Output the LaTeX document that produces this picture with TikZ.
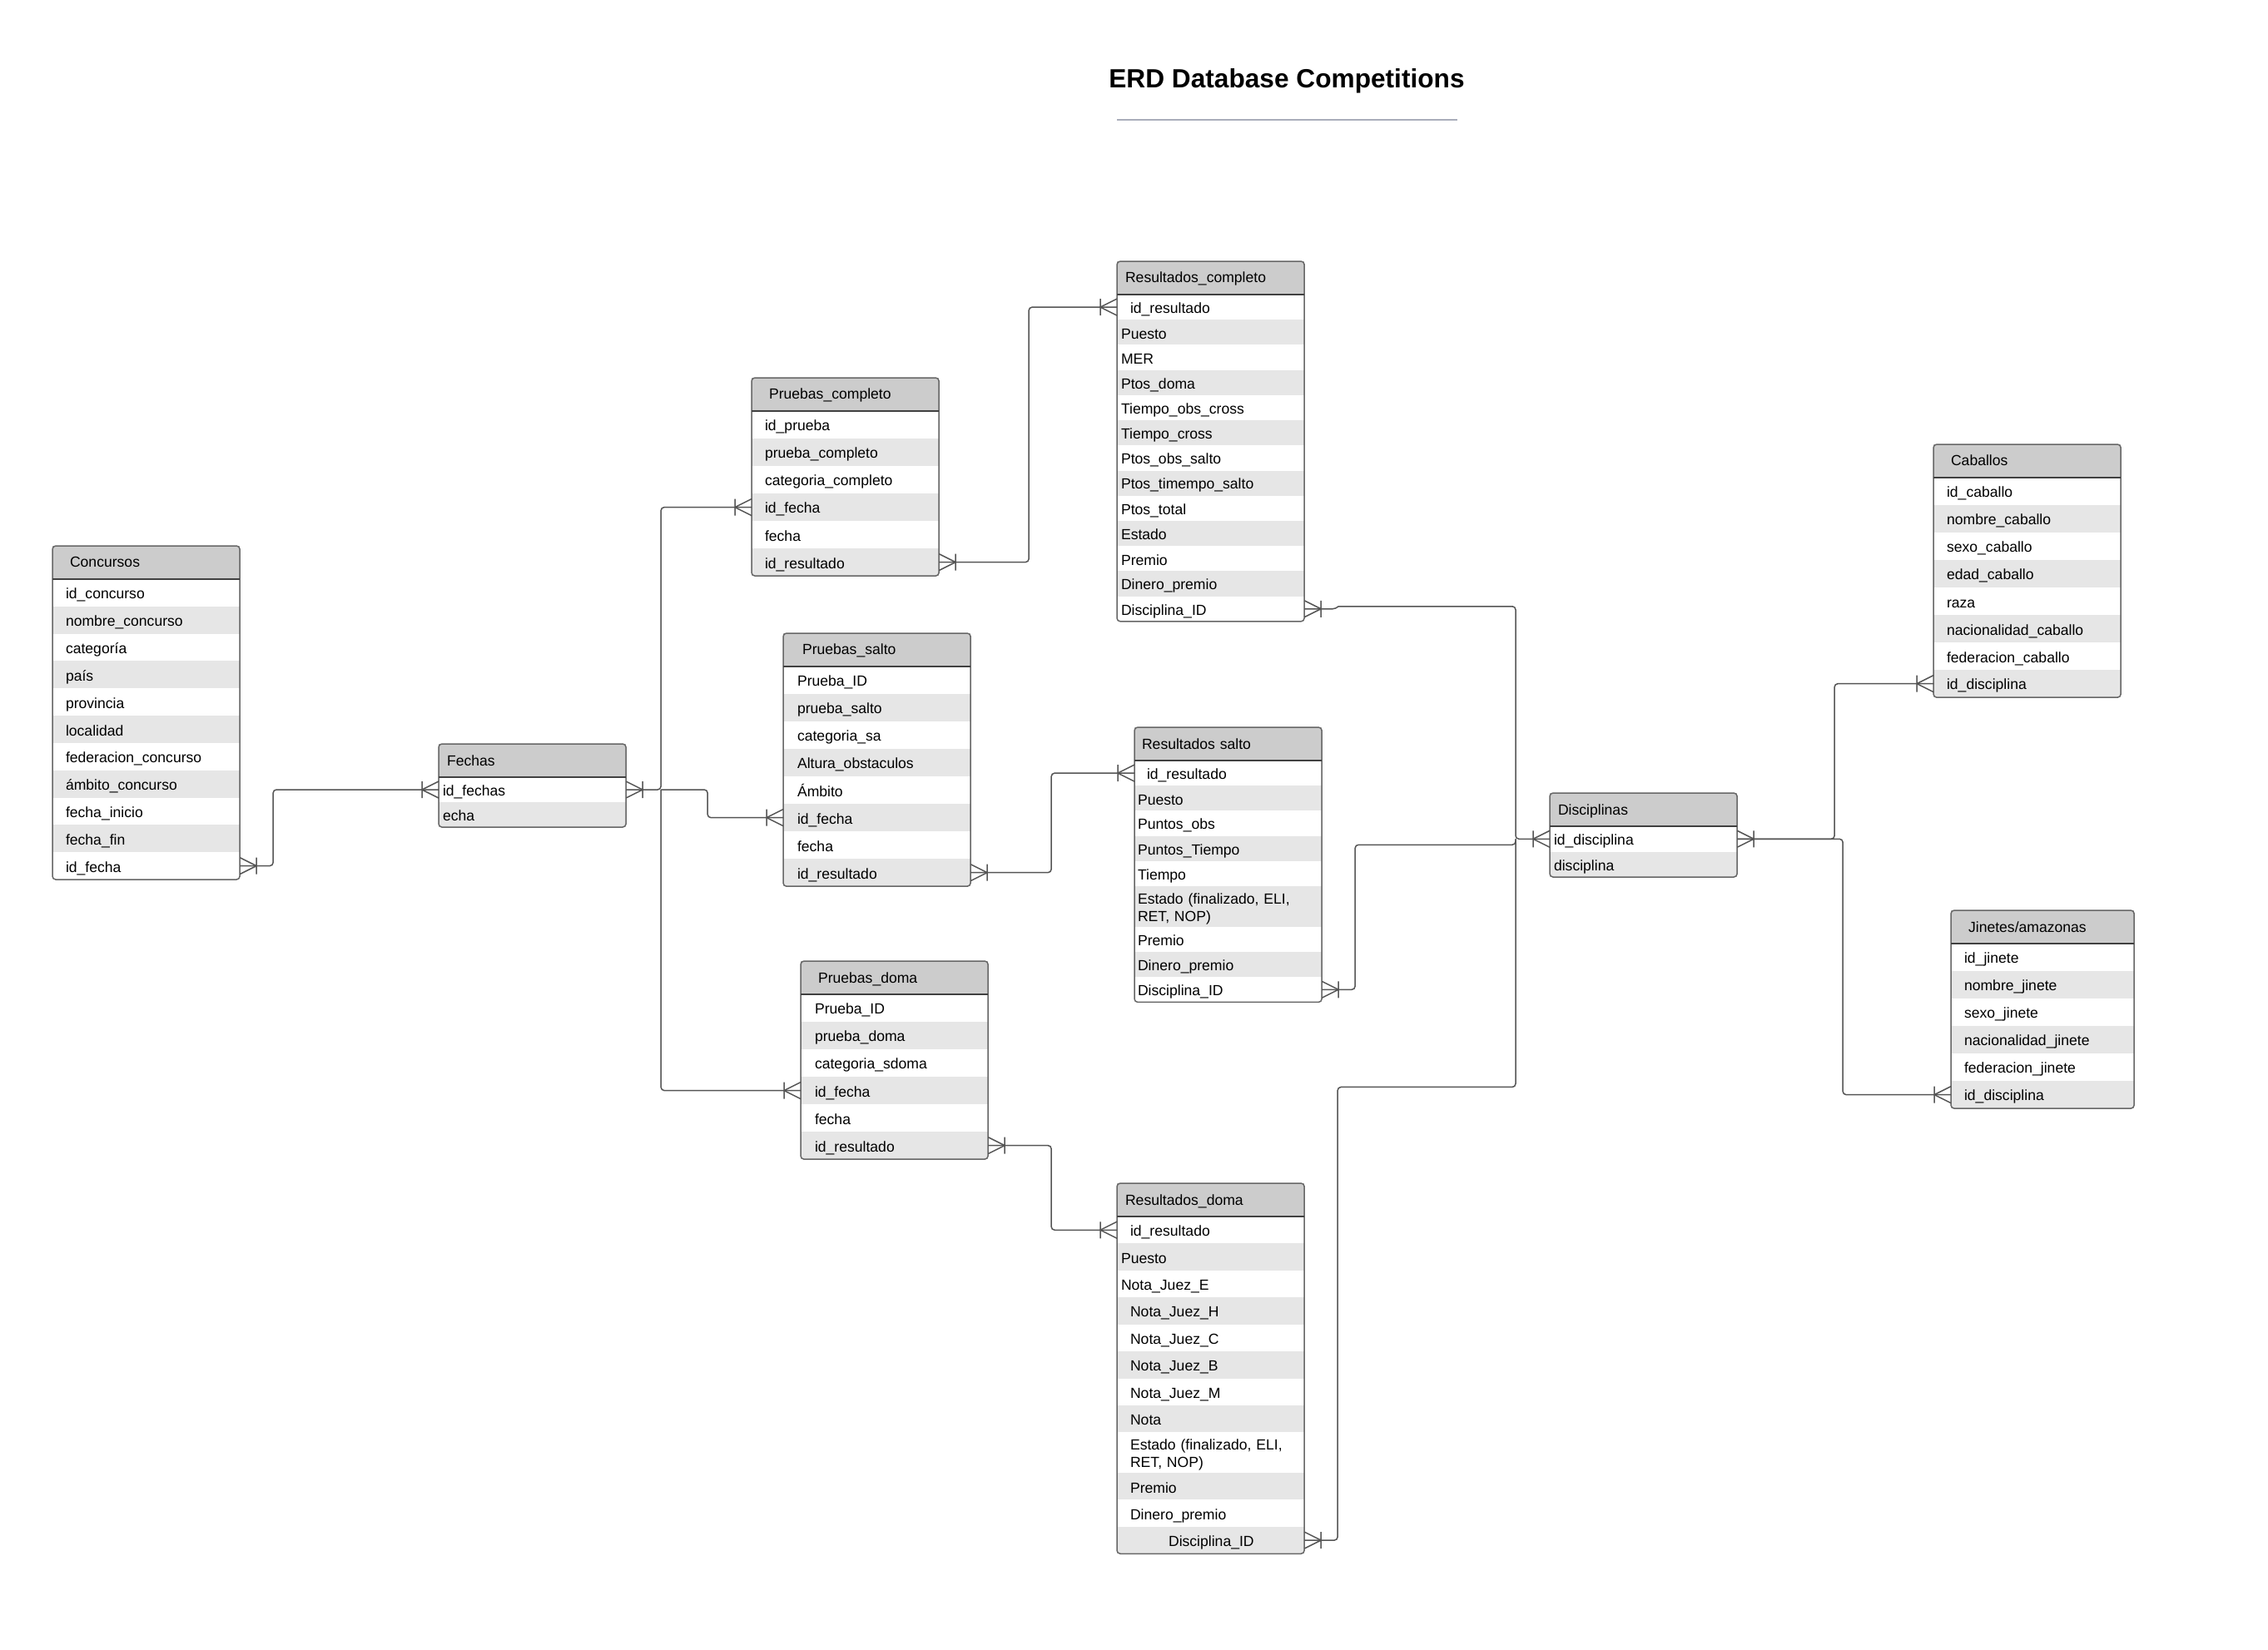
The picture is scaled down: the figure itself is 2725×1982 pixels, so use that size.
\documentclass[tikz,border=0pt]{standalone}
\usepackage{fontspec}
\setmainfont{Liberation Sans}
\usetikzlibrary{calc, positioning}

\definecolor{headgray}{HTML}{CCCCCC}
\definecolor{rowgray}{HTML}{E6E6E6}
\definecolor{linegray}{HTML}{555555}
\definecolor{rulegray}{HTML}{A9ADBA}

\newcommand{\rowind}{\hspace*{0.11cm}}
\newcommand{\rowstrut}{\rule[-0.8pt]{0pt}{6pt}}
\newcommand{\headstrut}{\rule[-1.3pt]{0pt}{6pt}}

% table: name, corner, width, head indent, row indent, row height, title, rows
\newcommand{\erdtable}[8]{%
	\pgfmathsetlengthmacro\headw{#3-2*#4}%
	\pgfmathsetlengthmacro\roww{#3-2*#5}%
	\node[erdhead, text width=\headw, inner xsep=#4, anchor=north west] (#1) at (#2) {\headstrut#7};
	\xdef\prevrow{#1}%
	\foreach \t [count=\i] in {#8} {%
		\pgfmathtruncatemacro\odd{mod(\i,2)}%
		\ifnum\odd=1 \def\rowfill{white}\else\def\rowfill{rowgray}\fi
		\node[erdrow, fill=\rowfill, text width=\roww, inner xsep=#5, minimum height=#6, anchor=north west] (#1-\i) at (\prevrow.south west) {\rowstrut\t};
		\xdef\prevrow{#1-\i}%
	}%
	\draw[boxline] (#1.north west) rectangle (\prevrow.south east);
	\draw[headline] (#1.south west) -- (#1.south east);
}

\begin{document}
\begin{tikzpicture}[x=0.01cm, y=-0.01cm,
	erdhead/.style={fill=headgray, minimum height=0.4cm, inner ysep=0.8pt, outer sep=0pt, align=left, font=\fontsize{5}{6}\selectfont},
	erdrow/.style={inner ysep=0.8pt, outer sep=0pt, align=left, font=\fontsize{5}{6}\selectfont},
	boxline/.style={draw=black!60, line width=0.15mm, rounded corners=0.4mm},
	headline/.style={draw=black!75, line width=0.15mm},
	conn/.style={draw=linegray, line width=0.15mm, rounded corners=0.4mm},
	crow/.pic={\draw[conn, sharp corners] (0,-10) -- (20,0) -- (0,10) (20,-10) -- (20,10);}]
	
	\useasboundingbox (0,0) rectangle (2725,1982);
	
	% Title
	\node[font=\fontsize{9}{11}\selectfont\bfseries] (title) at (1546,97) {ERD Database Competitions};
	\draw[rulegray, line width=0.2mm] ($(title.center)+(-204,47)$) -- ($(title.center)+(205,47)$);
	
	% --- COMPETITIONS AND DATES ---
	\erdtable{conc}{63,656}{2.25cm}{0.21cm}{0.16cm}{0.328cm}{Concursos}
	{id\_concurso, nombre\_concurso, categoría, país, provincia, localidad, federacion\_concurso, ámbito\_concurso, fecha\_inicio, fecha\_fin, id\_fecha}
	\erdtable{fech}{527,894}{2.25cm}{0.10cm}{0.05cm}{0.30cm}{Fechas}
	{id\_fechas, echa}
	
	% --- EVENTS ---
	\erdtable{pcom}{903,454}{2.25cm}{0.21cm}{0.16cm}{0.33cm}{Pruebas\_completo}
	{id\_prueba, prueba\_completo, categoria\_completo, id\_fecha, fecha, id\_resultado}
	\erdtable{psal}{941,761}{2.25cm}{0.23cm}{0.17cm}{0.33cm}{Pruebas\_salto}
	{Prueba\_ID, prueba\_salto, categoria\_sa, Altura\_obstaculos, Ámbito, id\_fecha, fecha, id\_resultado}
	\erdtable{pdom}{962,1155}{2.25cm}{0.21cm}{0.17cm}{0.33cm}{Pruebas\_doma}
	{Prueba\_ID, prueba\_doma, categoria\_sdoma, id\_fecha, fecha, id\_resultado}
	
	% --- RESULTS ---
	\erdtable{rcom}{1342,314}{2.25cm}{0.10cm}{0.05cm}{0.302cm}{Resultados\_completo}
	{\rowind id\_resultado, Puesto, MER, Ptos\_doma, Tiempo\_obs\_cross, Tiempo\_cross, Ptos\_obs\_salto, Ptos\_timempo\_salto, Ptos\_total, Estado, Premio, Dinero\_premio, Disciplina\_ID}
	\erdtable{rsal}{1363,874}{2.25cm}{0.09cm}{0.04cm}{0.302cm}{Resultados salto}
	{\rowind id\_resultado, Puesto, Puntos\_obs, Puntos\_Tiempo, Tiempo, {Estado (finalizado, ELI,\\RET, NOP)}, Premio, Dinero\_premio, Disciplina\_ID}
	\erdtable{rdom}{1342,1422}{2.25cm}{0.10cm}{0.05cm}{0.324cm}{Resultados\_doma}
	{\rowind id\_resultado, Puesto, Nota\_Juez\_E, \rowind Nota\_Juez\_H, \rowind Nota\_Juez\_C, \rowind Nota\_Juez\_B, \rowind Nota\_Juez\_M, \rowind Nota, {\rowind Estado (finalizado, ELI,\\\rowind RET, NOP)}, \rowind Premio, \rowind Dinero\_premio, \hspace*{0.57cm}Disciplina\_ID}
	
	% --- DISCIPLINES, HORSES, RIDERS ---
	\erdtable{disc}{1862,953}{2.25cm}{0.10cm}{0.05cm}{0.305cm}{Disciplinas}
	{id\_disciplina, disciplina}
	\erdtable{cab}{2323,534}{2.25cm}{0.21cm}{0.16cm}{0.33cm}{Caballos}
	{id\_caballo, nombre\_caballo, sexo\_caballo, edad\_caballo, raza, nacionalidad\_caballo, federacion\_caballo, id\_disciplina}
	\erdtable{jin}{2344,1094}{2.2cm}{0.21cm}{0.16cm}{0.33cm}{Jinetes/amazonas}
	{id\_jinete, nombre\_jinete, sexo\_jinete, nacionalidad\_jinete, federacion\_jinete, id\_disciplina}
	
	% --- RELATIONS ---
	\draw[conn] (conc-11.east) -- ++(40,0) |- (fech-1.west);
	\draw[conn] (fech-1.east) -- ++(42,0) coordinate (fj) |- (pcom-4.west);
	\draw[conn] (fj) |- (pdom-4.west);
	\draw[conn] (fj) -- ++(56,0) |- (psal-6.west);
	
	\draw[conn] (pcom-6.east) -- ++(108,0) |- (rcom-1.west);
	\draw[conn] (psal-8.east) -- ++(97,0) |- (rsal-1.west);
	\draw[conn] (pdom-6.east) -- ++(76,0) |- (rdom-1.west);
	
	% results -> disciplines (shared bus)
	\coordinate[left=0.41cm of disc-1.west] (bus);
	\draw[conn] (rcom-13.east) -- ++(38,0) [sharp corners] -- ++(3,-3) [rounded corners=0.4mm] -| (bus) -- (disc-1.west);
	\draw[conn] (rsal-9.east) -- ++(40,0) |- ([yshift=-0.07cm]bus) -- (bus);
	\draw[conn] (rdom-12.east) -- ++(40,0) |- ([yshift=-2.98cm]bus) -- (bus);
	
	\draw[conn] (disc-1.east) -- ++(117,0) |- (cab-8.west);
	\draw[conn] (disc-1.east) -- ++(127,0) |- (jin-6.west);
	
	% crow's feet (one or many)
	\foreach \p in {conc-11, fech-1, pcom-6, psal-8, pdom-6, rcom-13, rsal-9, rdom-12, disc-1}
		\pic at (\p.east) {crow};
	\foreach \p in {fech-1, pcom-4, psal-6, pdom-4, rcom-1, rsal-1, rdom-1, disc-1, cab-8, jin-6}
		\pic[xscale=-1] at (\p.west) {crow};
	
\end{tikzpicture}
\end{document}
